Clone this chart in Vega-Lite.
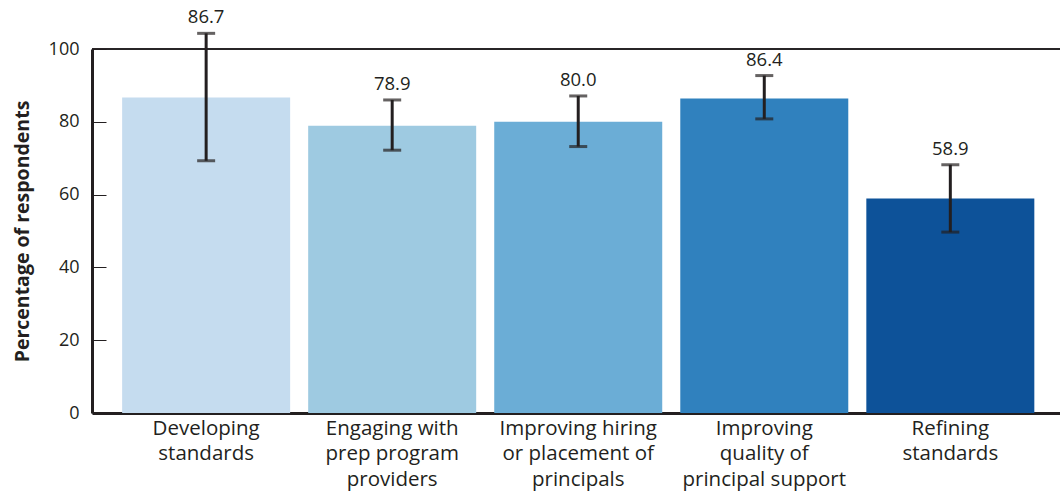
{
  "$schema": "https://vega.github.io/schema/vega-lite/v6.json",
  "autosize": {"type": "none"},
  "padding": {"left": 92, "top": 49, "right": 0, "bottom": 82},
  "width": 968,
  "height": 364,
  "background": "white",
  "config": {
    "view": {"stroke": null},
    "font": "Open Sans",
    "axis": {"labelFont": "Open Sans", "titleFont": "Open Sans", "labelColor": "#231f20", "titleColor": "#231f20"}
  },
  "data": {
    "values": [
      {"category": "Developing|standards", "value": 86.7, "lower": 69.3, "upper": 104.3, "color": "#c5dcef"},
      {"category": "Engaging with|prep program|providers", "value": 78.9, "lower": 72.2, "upper": 86.0, "color": "#9ecae1"},
      {"category": "Improving hiring|or placement of|principals", "value": 80.0, "lower": 73.2, "upper": 87.1, "color": "#6badd6"},
      {"category": "Improving|quality of|principal support", "value": 86.4, "lower": 80.8, "upper": 92.7, "color": "#3081be"},
      {"category": "Refining|standards", "value": 58.9, "lower": 49.7, "upper": 68.2, "color": "#0d5299"}
    ]
  },
  "encoding": {
    "x": {
      "field": "category",
      "type": "nominal",
      "sort": null,
      "scale": {"paddingInner": 0.097, "paddingOuter": 0.15, "align": 0.54},
      "axis": {
        "title": null,
        "labelAngle": 0,
        "labelExpr": "split(datum.label, '|')",
        "labelFontSize": 20.5,
        "labelLineHeight": 25.5,
        "labelPadding": 5,
        "ticks": false,
        "domain": true,
        "domainColor": "#231f20",
        "domainWidth": 3,
        "labelLimit": 300
      }
    }
  },
  "layer": [
    {
      "mark": {"type": "bar"},
      "encoding": {
        "y": {
          "field": "value",
          "type": "quantitative",
          "scale": {"domain": [0, 100], "nice": false},
          "axis": {
            "title": "Percentage of respondents",
            "titleFontSize": 19.5,
            "titleFontWeight": "bold",
            "titlePadding": 16,
            "values": [0, 20, 40, 60, 80, 100],
            "labelFontSize": 18,
            "tickSize": -14,
            "tickColor": "#231f20",
            "tickWidth": 1,
            "labelPadding": 27,
            "domainColor": "#231f20",
            "domainWidth": 3,
            "grid": false
          }
        },
        "color": {"field": "color", "type": "nominal", "scale": null, "legend": null}
      }
    },
    {
      "mark": {"type": "rule", "color": "#231f20", "strokeWidth": 1},
      "encoding": {"y": {"datum": 100}, "x": null}
    },
    {
      "mark": {"type": "rule", "color": "#231f20", "strokeWidth": 3},
      "encoding": {
        "y": {"field": "lower", "type": "quantitative"},
        "y2": {"field": "upper"}
      }
    },
    {
      "mark": {"type": "tick", "color": "#231f20", "thickness": 3, "size": 18, "orient": "horizontal"},
      "encoding": {"y": {"field": "lower", "type": "quantitative"}}
    },
    {
      "mark": {"type": "tick", "color": "#231f20", "thickness": 3, "size": 18, "orient": "horizontal"},
      "encoding": {"y": {"field": "upper", "type": "quantitative"}}
    },
    {
      "mark": {"type": "text", "baseline": "bottom", "dy": -6, "fontSize": 18.5, "color": "#231f20"},
      "encoding": {
        "y": {"field": "upper", "type": "quantitative"},
        "text": {"field": "value", "type": "quantitative", "format": ".1f"}
      }
    }
  ]
}
